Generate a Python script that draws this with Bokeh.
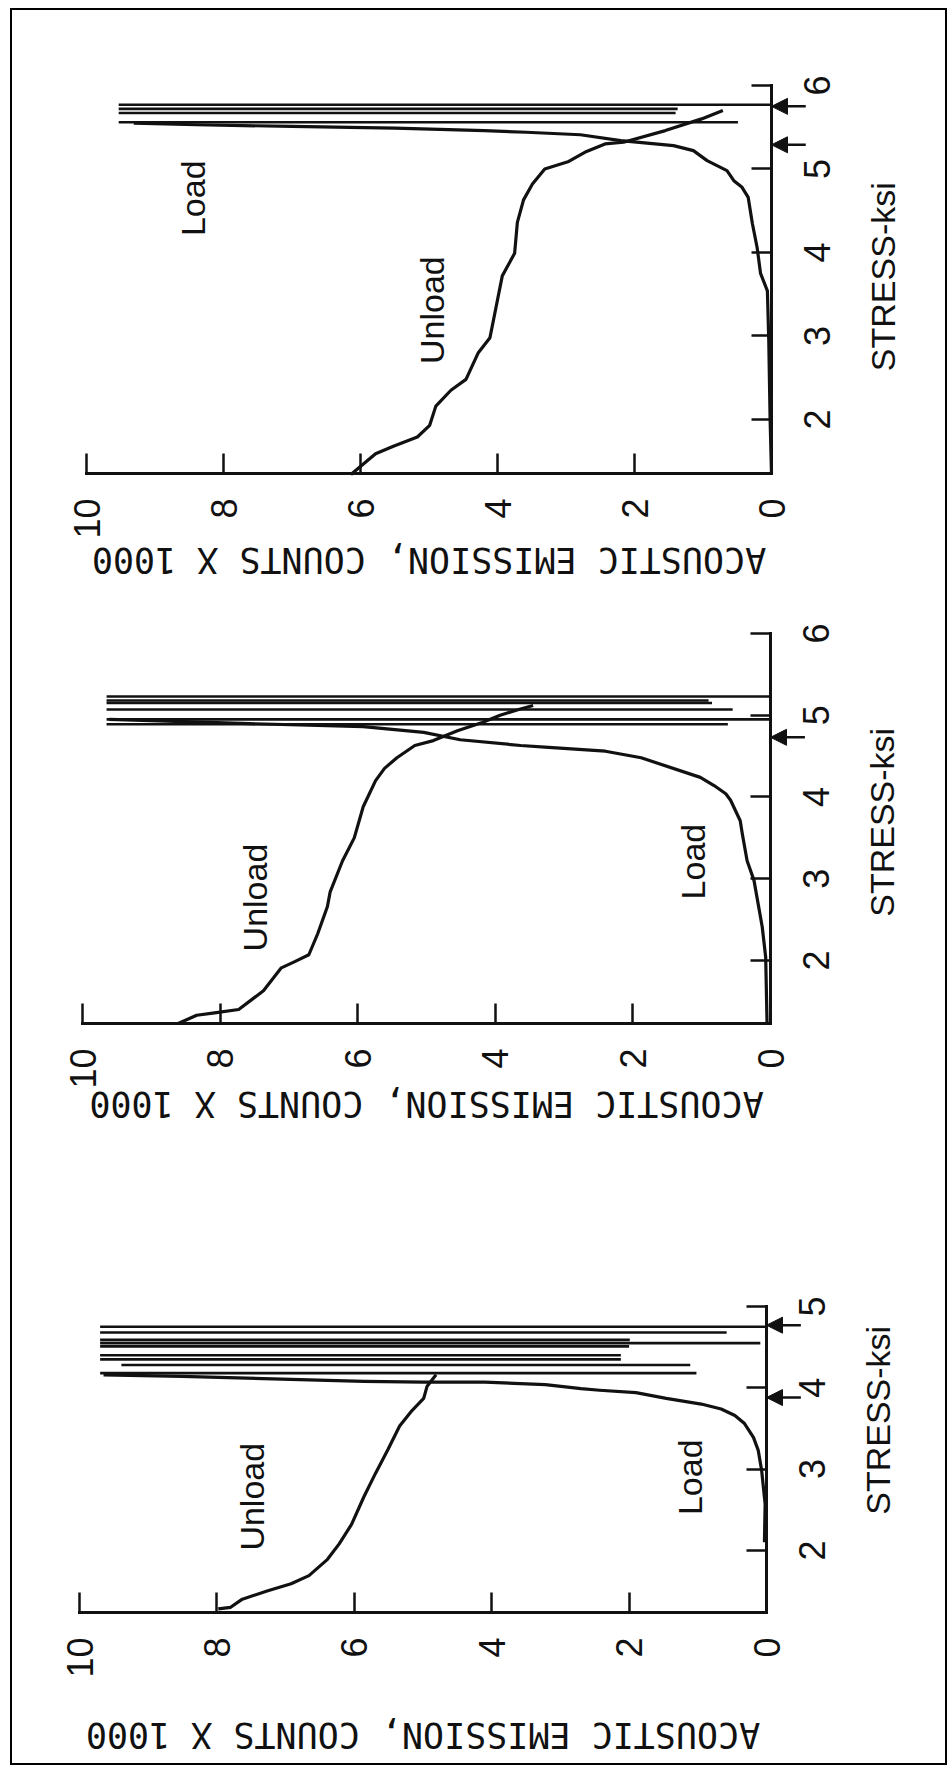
import math
from bokeh.plotting import figure
from bokeh.layouts import column
from bokeh.models import (Range1d, FixedTicker, Label, Arrow, NormalHead, LinearAxis,
                          CustomJSTickFormatter)
from bokeh.core.properties import value
from bokeh.embed import file_html
from bokeh.resources import INLINE

# ---------------- data (counts x 1000 vs stress ksi) ----------------
COUNT_TICKS = [0, 2, 4, 6, 8, 10]
COUNTS_TITLE = "ACOUSTIC EMISSION, COUNTS X 1000"
STRESS_TITLE = "STRESS-ksi"

# Panel 1 (top)
p1_stress_ticks = [2, 3, 4, 5, 6]
p1_load_counts = [0.0, 0.02, 0.04, 0.06, 0.16, 0.21, 0.28, 0.34, 0.43, 0.55, 0.65, 0.94, 1.14, 1.43,
                  2.20, 2.79, 3.58, 4.19, 5.50, 7.00, 8.40, 9.31]
p1_load_stress = [1.35, 1.99, 2.95, 3.54, 3.75, 4.06, 4.35, 4.66, 4.78, 4.86, 4.98, 5.10, 5.22, 5.28,
                  5.34, 5.41, 5.44, 5.46, 5.49, 5.51, 5.53, 5.55]
p1_unload_counts = [6.14, 5.78, 5.52, 5.17, 4.99, 4.90, 4.68, 4.46, 4.28, 4.11, 4.02, 3.93, 3.75, 3.71,
                    3.62, 3.49, 3.31, 2.96, 2.70, 2.43, 2.16, 1.55, 1.02, 0.71]
p1_unload_stress = [1.34, 1.59, 1.68, 1.79, 1.93, 2.16, 2.35, 2.48, 2.80, 2.98, 3.35, 3.72, 3.99, 4.36,
                    4.63, 4.82, 5.00, 5.09, 5.21, 5.30, 5.32, 5.46, 5.60, 5.70]
p1_sweep_stress = [5.56, 5.67, 5.72, 5.77]
p1_sweep_hi = [9.53, 9.53, 9.53, 9.53]
p1_sweep_lo = [0.49, 1.40, 1.37, 0.0]
p1_arrows = [5.75, 5.29]
p1_text = ["Load", "Unload"]
p1_text_counts = [8.45, 4.96]
p1_text_stress = [4.65, 3.31]

# Panel 2 (middle)
p2_stress_ticks = [2, 3, 4, 5, 6]
p2_load_counts = [0.05, 0.07, 0.12, 0.24, 0.34, 0.41, 0.44, 0.58, 0.65, 0.82, 1.02, 1.88, 2.40, 3.28,
                  3.63, 4.51, 5.04, 5.92, 7.68, 9.61]
p2_load_stress = [1.23, 2.04, 2.41, 2.98, 3.22, 3.55, 3.71, 3.96, 4.04, 4.14, 4.24, 4.48, 4.56, 4.61,
                  4.63, 4.70, 4.79, 4.86, 4.90, 4.95]
p2_unload_counts = [8.61, 8.34, 8.08, 7.73, 7.37, 7.11, 6.93, 6.71, 6.58, 6.44, 6.40, 6.22, 6.05, 5.92,
                    5.74, 5.61, 5.43, 5.17, 4.90, 4.55, 4.19, 3.93, 3.66, 3.45]
p2_unload_stress = [1.23, 1.33, 1.36, 1.40, 1.63, 1.91, 1.98, 2.07, 2.33, 2.66, 2.84, 3.22, 3.50, 3.88,
                    4.20, 4.35, 4.48, 4.63, 4.69, 4.81, 4.91, 5.00, 5.07, 5.12]
p2_sweep_stress = [4.89, 4.95, 5.07, 5.15, 5.18, 5.23]
p2_sweep_hi = [9.65, 9.65, 9.65, 9.65, 9.65, 9.65]
p2_sweep_lo = [0.62, 0.0, 0.55, 0.85, 0.90, 0.0]
p2_arrows = [4.73]
p2_text = ["Unload", "Load"]
p2_text_counts = [7.49, 1.13]
p2_text_stress = [2.77, 3.21]

# Panel 3 (bottom)
p3_stress_ticks = [2, 3, 4, 5]
p3_load_counts = [0.03, 0.02, 0.07, 0.12, 0.19, 0.32, 0.46, 0.66, 0.95, 1.46, 1.90, 2.43, 2.70, 3.22,
                  4.10, 4.99, 5.86, 7.19, 8.51, 9.65]
p3_load_stress = [2.10, 2.57, 2.98, 3.23, 3.39, 3.56, 3.66, 3.74, 3.80, 3.87, 3.94, 3.97, 3.99, 4.04,
                  4.07, 4.07, 4.08, 4.11, 4.14, 4.16]
p3_unload_counts = [7.98, 7.80, 7.63, 7.27, 6.92, 6.66, 6.39, 6.22, 6.04, 5.86, 5.69, 5.51, 5.34, 5.16,
                    4.99, 4.94, 4.81]
p3_unload_stress = [1.28, 1.30, 1.40, 1.50, 1.59, 1.69, 1.89, 2.08, 2.32, 2.66, 2.95, 3.24, 3.53, 3.72,
                    3.87, 4.02, 4.16]
p3_sweep_stress = [4.18, 4.28, 4.35, 4.40, 4.51, 4.55, 4.59, 4.68, 4.75]
p3_sweep_hi = [9.70, 9.39, 9.70, 9.70, 9.70, 9.70, 9.70, 9.70, 9.70]
p3_sweep_lo = [1.02, 1.11, 2.12, 2.12, 2.00, 0.09, 1.99, 0.58, 0.0]
p3_arrows = [4.77, 3.88]
p3_text = ["Unload", "Load"]
p3_text_counts = [7.49, 1.11]
p3_text_stress = [2.66, 2.90]

# ---------------- layout / style ----------------
W = 933
BLACK = "#111111"
TICK_FONT = "Liberation Sans"
TICK_SIZE = 36
TEXT_FONT = "Liberation Sans"
TITLE_FONT = "DejaVu Sans Mono"
ARROW_TAIL = -0.5

panels = [
    dict(h=585, top=75, bottom=122, left=74, right=174, ymin=1.353, ymax=6.0, ticks=p1_stress_ticks,
         load=(p1_load_counts, p1_load_stress), unload=(p1_unload_counts, p1_unload_stress),
         sweep=(p1_sweep_stress, p1_sweep_hi, p1_sweep_lo), arrows=p1_arrows,
         text=(p1_text, p1_text_counts, p1_text_stress), title_off=86, stress_lab_y=3.71),
    dict(h=555, top=38, bottom=127, left=70, right=175, ymin=1.229, ymax=6.0, ticks=p2_stress_ticks,
         load=(p2_load_counts, p2_load_stress), unload=(p2_unload_counts, p2_unload_stress),
         sweep=(p2_sweep_stress, p2_sweep_hi, p2_sweep_lo), arrows=p2_arrows,
         text=(p2_text, p2_text_counts, p2_text_stress), title_off=80, stress_lab_y=3.69),
    dict(h=613, top=156, bottom=151, left=67, right=179, ymin=1.236, ymax=5.0, ticks=p3_stress_ticks,
         load=(p3_load_counts, p3_load_stress), unload=(p3_unload_counts, p3_unload_stress),
         sweep=(p3_sweep_stress, p3_sweep_hi, p3_sweep_lo), arrows=p3_arrows,
         text=(p3_text, p3_text_counts, p3_text_stress), title_off=122, stress_lab_y=3.60),
]


def style_axis(ax, ticks):
    ax.ticker = FixedTicker(ticks=ticks, minor_ticks=[])
    ax.axis_line_width = 3
    ax.axis_line_color = BLACK
    ax.axis_line_cap = "square"
    ax.major_tick_in = 20
    ax.major_tick_out = 0
    ax.major_tick_line_width = 2.5
    ax.major_tick_line_color = BLACK
    ax.minor_tick_line_color = None
    ax.major_label_orientation = math.pi / 2
    ax.major_label_text_font = TICK_FONT
    ax.major_label_text_font_size = "%dpx" % TICK_SIZE
    ax.major_label_text_color = BLACK
    ax.major_label_standoff = 25


def make_panel(c):
    # the frame spans the whole canvas; the axes sit at fixed data locations inside it
    box_w = W - c["left"] - c["right"]
    box_h = c["h"] - c["top"] - c["bottom"]
    xu = box_w / 10.0
    yu = box_h / (c["ymax"] - c["ymin"])
    x_range = Range1d(10 + c["left"] / xu, 0 - c["right"] / xu)
    y_range = Range1d(c["ymin"] - c["bottom"] / yu, c["ymax"] + c["top"] / yu)

    p = figure(width=W, height=c["h"], x_range=x_range, y_range=y_range,
               x_axis_location="below", y_axis_location="right",
               toolbar_location=None, output_backend="svg",
               min_border_left=0, min_border_right=0, min_border_top=0, min_border_bottom=0)
    p.grid.visible = False
    p.outline_line_color = None
    p.background_fill_color = "white"
    p.border_fill_color = "white"

    xa = p.xaxis[0]
    ya = p.yaxis[0]
    xa.fixed_location = c["ymin"]
    xa.bounds = (0, 10)
    ya.fixed_location = 0
    ya.bounds = (c["ymin"], c["ymax"])
    style_axis(xa, COUNT_TICKS)
    style_axis(ya, c["ticks"])
    # stress axis: line + ticks only; its labels come from a companion axis that
    # centres the upright-rotated numbers on their ticks
    ya.formatter = CustomJSTickFormatter(code="return ''")

    shift = (0.556 * TICK_SIZE / 2.0) / yu
    la = LinearAxis(fixed_location=0, bounds=(c["ymin"] - 1, c["ymax"]))
    style_axis(la, [t - shift for t in c["ticks"]])
    la.axis_line_color = None
    la.major_tick_line_color = None
    la.major_label_standoff = 46
    la.formatter = CustomJSTickFormatter(code="return Math.round(tick + %r).toString()" % shift)
    p.add_layout(la, "right")

    sx, sy = c["unload"]
    p.line(sx, sy, line_color=BLACK, line_width=3.2, line_join="round")
    lx, ly = c["load"]
    p.line(lx, ly, line_color=BLACK, line_width=3.2, line_join="round")
    ss, shi, slo = c["sweep"]
    p.segment(x0=shi, y0=ss, x1=slo, y1=ss, line_color=BLACK, line_width=2.6)

    t, tx, ty = c["text"]
    p.text(x=tx, y=ty, text=t, angle=math.pi / 2, text_align="center", text_baseline="middle",
           text_font=value(TEXT_FONT), text_font_size=value("34px"), text_color=BLACK)

    for s in c["arrows"]:
        p.add_layout(Arrow(end=NormalHead(size=16, fill_color=BLACK, line_color=BLACK),
                           x_start=ARROW_TAIL, y_start=s, x_end=0, y_end=s,
                           line_color=BLACK, line_width=2.5))

    p.add_layout(Label(x=5, y=c["ymin"] - c["title_off"] / yu, text=COUNTS_TITLE, angle=math.pi,
                       text_align="center", text_baseline="middle", text_font=TITLE_FONT,
                       text_font_size="35px", text_color=BLACK))
    p.add_layout(Label(x=0, y=c["stress_lab_y"], x_offset=111, text=STRESS_TITLE, angle=math.pi / 2,
                       text_align="center", text_baseline="middle", text_font=TEXT_FONT,
                       text_font_size="34px", text_color=BLACK))
    return p


figs = [make_panel(c) for c in panels]
layout = column(*figs, styles={"border": "2px solid black", "margin": "8px 0 0 10px"})

with open("out.html", "w") as f:
    f.write(file_html(layout, INLINE))
